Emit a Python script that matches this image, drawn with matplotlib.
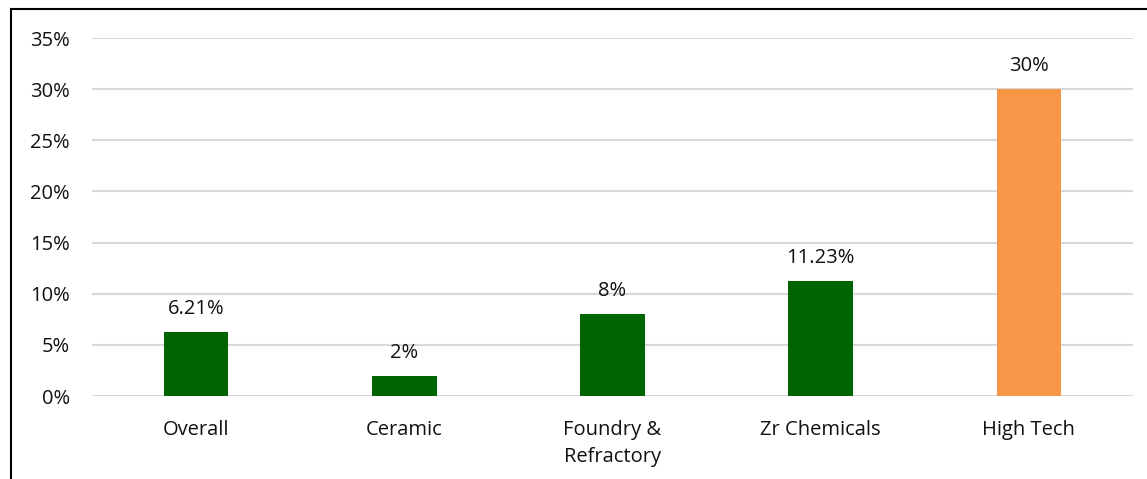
import matplotlib
matplotlib.use("Agg")
import matplotlib.pyplot as plt
from matplotlib.lines import Line2D
from matplotlib.ticker import PercentFormatter

categories = ["Overall", "Ceramic", "Foundry &\nRefractory", "Zr Chemicals", "High Tech"]
values = [6.21, 2, 8, 11.23, 30]
labels = ["6.21%", "2%", "8%", "11.23%", "30%"]
colors = ["#006400", "#006400", "#006400", "#006400", "#F79646"]
yticks = [0, 5, 10, 15, 20, 25, 30, 35]

plt.rcParams['font.family'] = ['Open Sans', 'DejaVu Sans']

W, H = 1147, 479
fig = plt.figure(figsize=(W/100, H/100), dpi=100)
ax = fig.add_axes([92/W, 1-396/H, (1133-92)/W, (396-38)/H])

x = range(len(categories))
bars = ax.bar(x, values, width=0.31, color=colors, zorder=3)
for b, lab in zip(bars, labels):
    ax.annotate(lab, (b.get_x()+b.get_width()/2, b.get_height()),
                xytext=(0, 13), textcoords="offset pixels",
                ha="center", va="bottom", fontsize=14.5, color="#111111")

ax.set_xlim(-0.5, len(categories)-0.5)
ax.set_ylim(0, 35)
ax.set_yticks(yticks)
ax.yaxis.set_major_formatter(PercentFormatter(decimals=0))
ax.set_xticks(list(x))
ax.set_xticklabels(categories, fontsize=14.5, color="#111111", linespacing=1.5)
ax.tick_params(axis='y', length=0, pad=16, labelsize=14.5, labelcolor="#111111")
ax.tick_params(axis='x', length=0, pad=17)
ax.grid(axis='y', color="#d9d9d9", linewidth=1.5, zorder=0)
for s in ax.spines.values():
    s.set_visible(False)

fig.add_artist(Line2D([11/W, 11/W], [0, 1-9/H], transform=fig.transFigure, color="black", linewidth=1.5))
fig.add_artist(Line2D([11/W, 1], [1-9/H, 1-9/H], transform=fig.transFigure, color="black", linewidth=1.5))

fig.savefig("out.png", dpi=100)
